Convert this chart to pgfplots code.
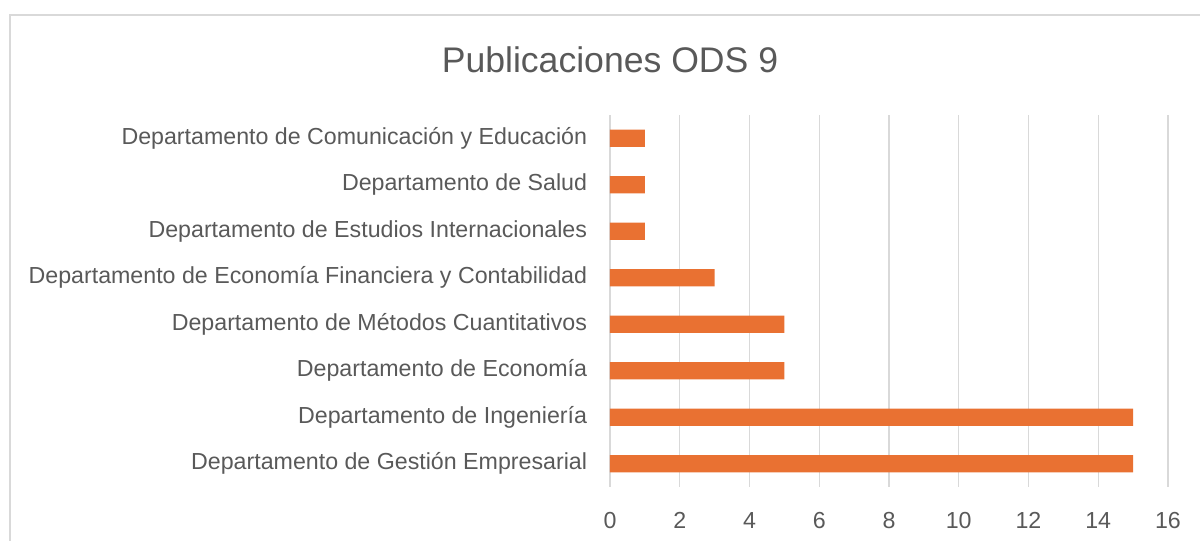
\documentclass[border=0pt]{standalone}
\usepackage{pgfplots}
\pgfplotsset{compat=1.18}
\usepackage{fontspec}
\setmainfont{Liberation Sans}
\definecolor{barorange}{HTML}{E97132}
\definecolor{txt}{HTML}{595959}
\definecolor{gridc}{HTML}{D9D9D9}
\begin{document}
\begin{tikzpicture}[x=0.75pt,y=0.75pt]
\path[use as bounding box] (0,0) rectangle (1200,541);
\draw[gridc, line width=1.1pt] (10,0) -- (10,526) -- (1200,526);
\node[txt, font=\fontsize{26.7}{31}\selectfont] at (610,481) {Publicaciones ODS 9};
\begin{axis}[
  at={(457.5pt,40.5pt)}, anchor=south west,
  scale only axis, width=418.5pt, height=279pt,
  xbar, bar width=13pt, bar shift=0pt,
  xmin=0, xmax=16, ymin=-0.5, ymax=7.5,
  xtick={0,2,...,16},
  ytick={0,...,7},
  yticklabels={Departamento de Gestión Empresarial,Departamento de Ingeniería,Departamento de Economía,Departamento de Métodos Cuantitativos,Departamento de Economía Financiera y Contabilidad,Departamento de Estudios Internacionales,Departamento de Salud,Departamento de Comunicación y Educación},
  axis line style={draw=none},
  major tick length=0pt,
  xmajorgrids, grid style={gridc, line width=1.1pt},
  /pgf/number format/assume math mode=true,
  tick label style={txt, font=\fontsize{17.4}{20}\selectfont, inner sep=0pt},
  yticklabel style={anchor=east, xshift=-17pt},
  xticklabel style={anchor=north, yshift=-19pt},
]
\addplot[fill=barorange, draw=none] coordinates {
(15,0) (15,1) (5,2) (5,3) (3,4) (1,5) (1,6) (1,7)};
\end{axis}
\end{tikzpicture}
\end{document}
